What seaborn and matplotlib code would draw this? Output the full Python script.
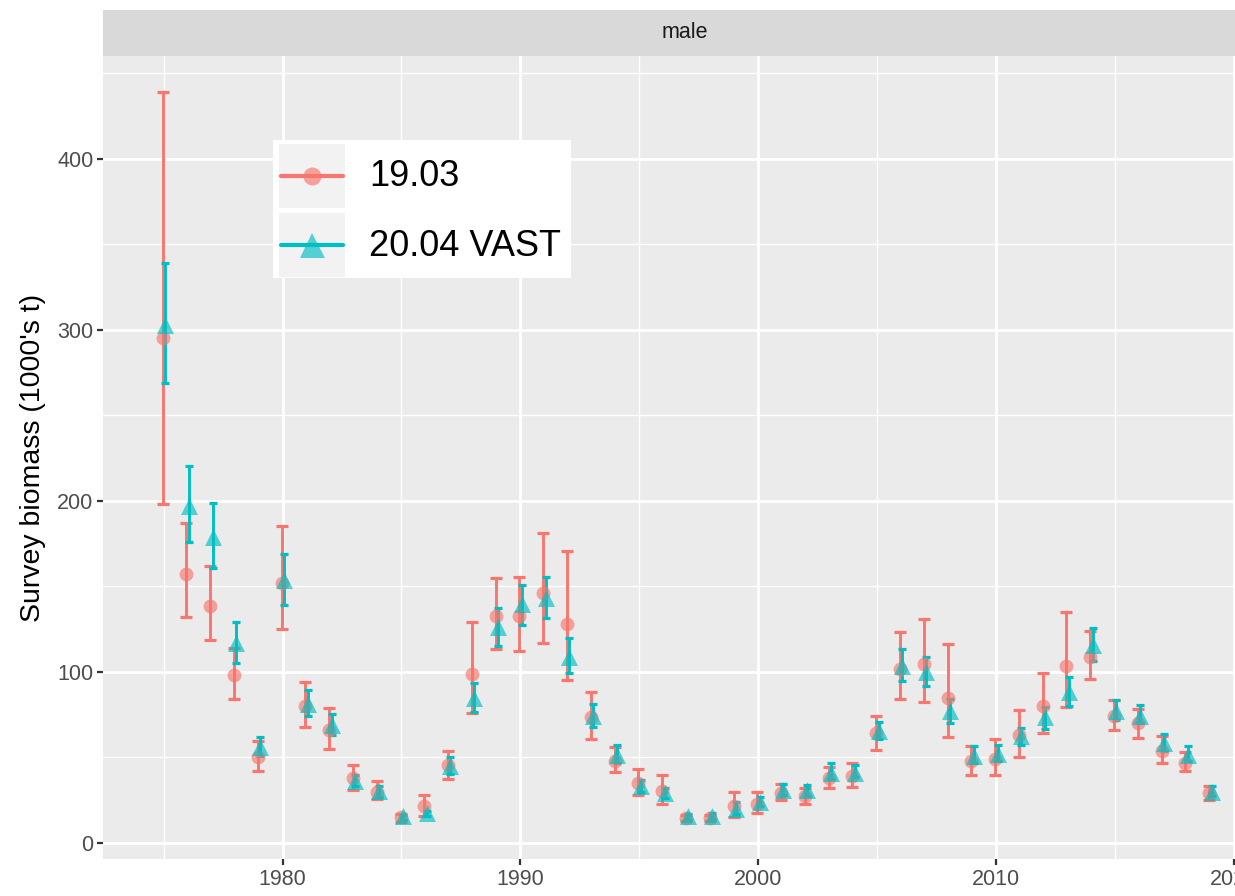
import matplotlib
matplotlib.use("Agg")
import matplotlib.pyplot as plt
from matplotlib.patches import Rectangle
from matplotlib.ticker import MultipleLocator
import seaborn as sns
import pandas as pd
import numpy as np

years = list(range(1975, 2020))

# model 19.03
est_1903 = [295, 157, 138.5, 98, 50, 152, 80, 66, 38, 30, 15, 21.5, 45.5, 99, 133,
            132.5, 146, 128, 73.5, 48, 35, 30.5, 14.5, 14.5, 21.5, 23, 29, 27.5, 38, 39,
            64, 102, 104.5, 85, 48, 49, 63, 80, 103.5, 109, 74.5, 70, 54, 47, 29]
lo_1903 = [198, 132, 118.5, 84, 42, 125, 68, 55, 31, 25.5, 12, 15.5, 37.5, 76, 113.5,
           112.5, 117, 95.5, 61, 41.5, 28, 23, 13, 13, 15, 17.5, 25, 23, 32, 32.5,
           54.5, 84, 82.5, 62, 40, 40, 50.5, 64.5, 79.5, 96, 66, 61.5, 47, 42, 25]
hi_1903 = [439, 187, 162, 114, 59.5, 185.5, 94, 79, 45.5, 36, 17, 28, 54, 129, 155,
           155.5, 181.5, 171, 88, 56, 43, 40, 16.5, 16.5, 29.5, 30, 34.5, 32, 44.5, 46.5,
           74, 123.5, 131, 116.5, 56.5, 61, 78, 99.5, 135, 124, 83.5, 78.5, 62.5, 53, 33.5]

# model 20.04 VAST
est_vast = [303, 197, 179, 117, 56, 153.5, 81.5, 69, 36.5, 30.5, 15.5, 17.5, 45, 85, 126.5,
            140, 143, 109, 74.5, 51.5, 33, 29, 16, 16, 20, 24, 31, 31, 41, 41,
            65.5, 103.5, 100, 77, 51, 52, 62.5, 73.5, 88, 116, 77, 74.5, 58.5, 51.5, 29.5]
lo_vast = [269, 176, 160.5, 105, 51, 139, 74, 63, 33.5, 27, 13.5, 15.5, 40.5, 76.5, 115,
           127.5, 131.5, 99.5, 68, 47, 30, 26, 13.5, 14, 17, 21.5, 28, 27.5, 37.5, 38.5,
           60.5, 94.5, 91.5, 70, 47, 48, 57.5, 66.5, 80, 106.5, 72, 70, 54, 48, 27.5]
hi_vast = [339, 220.5, 198.5, 129, 62, 169, 89.5, 75.5, 39.5, 33.5, 16.5, 18.5, 50.5, 93.5, 137.5,
           151, 155.5, 120, 81.5, 57, 37, 32, 17, 17.5, 24, 27, 34.5, 34, 46.5, 45.5,
           71, 113.5, 108.5, 84, 56.5, 57, 67.5, 79.5, 97, 125.5, 83.5, 80.5, 63.5, 56.5, 33]

models = ["19.03", "20.04 VAST"]
colors = ["#F8766D", "#00BFC4"]

df = pd.concat([
    pd.DataFrame({"year": np.array(years) - 0.04, "biomass": est_1903,
                  "lo": lo_1903, "hi": hi_1903, "model": models[0]}),
    pd.DataFrame({"year": np.array(years) + 0.06, "biomass": est_vast,
                  "lo": lo_vast, "hi": hi_vast, "model": models[1]}),
])

sns.set_theme(style="darkgrid")
plt.rcParams["font.family"] = ["Liberation Sans", "DejaVu Sans"]

fig = plt.figure(figsize=(12.35, 8.96), dpi=100)
ax = fig.add_axes([103 / 1235, 37 / 896, 1164 / 1235, 803 / 896])
ax.set_facecolor("#EBEBEB")

for m, c, cap, mk, ms in zip(models, colors, [4.3, 2.9], ["o", "^"], [100, 150]):
    d = df[df["model"] == m]
    ax.errorbar(d["year"], d["biomass"],
                yerr=[d["biomass"] - d["lo"], d["hi"] - d["biomass"]],
                fmt="none", ecolor=c, elinewidth=2.1, capsize=cap, capthick=2.3, zorder=3)
    sns.scatterplot(data=d, x="year", y="biomass", color=c, marker=mk, s=ms,
                    alpha=0.65, linewidth=0, ax=ax, zorder=4, legend=False)

ax.set_xlim(1972.45, 2021.39)
ax.set_ylim(-9.4, 460.2)
ax.xaxis.set_major_locator(MultipleLocator(10))
ax.xaxis.set_minor_locator(MultipleLocator(5))
ax.yaxis.set_major_locator(MultipleLocator(100))
ax.yaxis.set_minor_locator(MultipleLocator(50))
ax.grid(which="major", color="white", linewidth=2.0)
ax.grid(which="minor", color="white", linewidth=1.0)
ax.set_axisbelow(True)
for s in ax.spines.values():
    s.set_visible(False)
ax.tick_params(axis="both", which="major", length=4, width=1.6, color="#333333",
               labelsize=15.5, labelcolor="#4D4D4D", pad=3, bottom=True, left=True)
ax.tick_params(which="minor", length=0)
ax.set_xlabel("")
ax.set_ylabel("Survey biomass (1000's t)", fontsize=20.5, color="black", labelpad=8)

# facet strip
strip = fig.add_axes([103 / 1235, 840 / 896, 1164 / 1235, 46 / 896])
strip.set_facecolor("#D9D9D9")
strip.set_xticks([])
strip.set_yticks([])
for s in strip.spines.values():
    s.set_visible(False)
strip.text(0.5, 0.5, "male", ha="center", va="center", fontsize=15.5, color="#1A1A1A",
           transform=strip.transAxes)

# legend box
leg = fig.add_axes([273 / 1235, 618 / 896, 298 / 1235, 138 / 896])
leg.set_xlim(0, 298)
leg.set_ylim(138, 0)
leg.set_facecolor("white")
leg.set_xticks([])
leg.set_yticks([])
leg.grid(False)
for s in leg.spines.values():
    s.set_visible(False)
for i, (m, c, mk, ms) in enumerate(zip(models, colors, ["o", "^"], [13, 18])):
    y0 = 4 + i * 69
    leg.add_patch(Rectangle((6, y0), 66, 64, facecolor="#F2F2F2", edgecolor="none"))
    leg.plot([8, 70], [y0 + 32, y0 + 32], color=c, lw=3.0)
    leg.plot([39], [y0 + 32], marker=mk, ms=ms, color=c, alpha=0.65, mew=0)
    leg.text(96, y0 + 33, m, ha="left", va="center", fontsize=26, color="black")

fig.savefig("out.png", dpi=100)
